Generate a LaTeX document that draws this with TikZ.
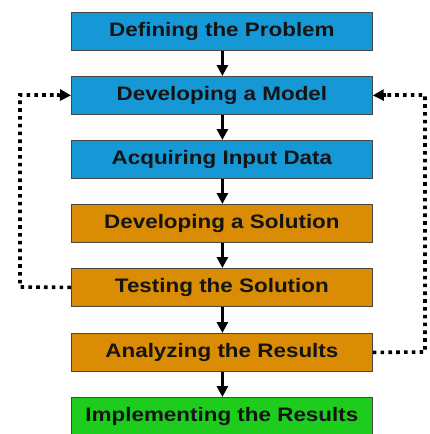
\documentclass[tikz,border=0pt]{standalone}
\usepackage{fontspec}
\setmainfont{Liberation Sans}
\newfontfamily\boxfont[FakeStretch=1.15]{Liberation Sans}
\usetikzlibrary{arrows.meta}
\definecolor{bluebox}{RGB}{22,152,214}
\definecolor{orangebox}{RGB}{218,140,4}
\definecolor{greenbox}{RGB}{30,204,30}
\definecolor{boxline}{RGB}{70,70,70}
\definecolor{txt}{RGB}{20,20,20}
\tikzset{
  stagebox/.style={draw=boxline, line width=0.8pt, minimum width=301pt, minimum height=38pt,
    inner sep=0pt, anchor=north west, font=\boxfont\fontsize{19.5}{22}\selectfont\bfseries, text=txt},
  flowarrow/.style={line width=2.8pt, -{Triangle[width=11pt,length=11pt]}},
  loopline/.style={line width=3.6pt, dash pattern=on 3.6pt off 4.2pt},
  loophead/.style={line width=3.6pt, -{Triangle[width=11pt,length=11pt]}},
}
\begin{document}
\begin{tikzpicture}[x=1pt,y=-1pt]
\useasboundingbox (0,0) rectangle (429,434);
\begin{scope}
\clip (0,0) rectangle (429,434);
\node[stagebox, fill=bluebox] (b1) at (71,12) {Defining the Problem};
\node[stagebox, fill=bluebox] (b2) at (71,76) {Developing a Model};
\node[stagebox, fill=bluebox] (b3) at (71,140) {Acquiring Input Data};
\node[stagebox, fill=orangebox] (b4) at (71,204) {Developing a Solution};
\node[stagebox, fill=orangebox] (b5) at (71,268) {Testing the Solution};
\node[stagebox, fill=orangebox] (b6) at (71,333) {Analyzing the Results};
\node[stagebox, fill=greenbox] (b7) at (71,397) {Implementing the Results};
\end{scope}
\foreach \a/\b in {b1/b2,b2/b3,b3/b4,b4/b5,b5/b6,b6/b7}
  \draw[flowarrow] ([xshift=0.5pt]\a.south) -- ([xshift=0.5pt]\b.north);
\coordinate (lb) at (20,287);
\coordinate (lt) at (20,95);
\coordinate (lh) at (57,95);
\coordinate (rb) at (425,352);
\coordinate (rt) at (425,95);
\coordinate (rh) at (386,95);
\draw[loopline] (b5.west) -- (lb) -- (lt) -- (lh);
\draw[loophead] (lh) -- (b2.west);
\draw[loopline] (b6.east) -- (rb) -- (rt) -- (rh);
\draw[loophead] (rh) -- (b2.east);
\end{tikzpicture}
\end{document}
